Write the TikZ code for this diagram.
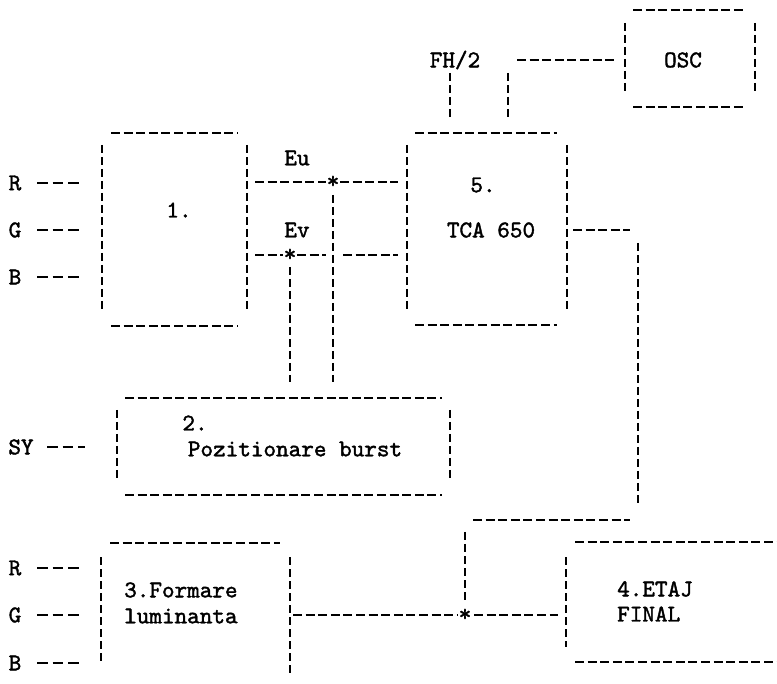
\documentclass[tikz,border=0pt]{standalone}
\usepackage{fontspec}
\setmonofont{lmmono10-regular.otf}[FakeBold=1.6]
\begin{document}
\begin{tikzpicture}[x=1pt,y=-1pt,
  hd/.style={line width=2.6pt, dash pattern=on 9pt off 3.6pt},
  vd/.style={line width=2.6pt, dash pattern=on 8pt off 4pt},
  ind/.style={line width=2.6pt, dash pattern=on 10.5pt off 5pt},
  txt/.style={inner sep=0pt, font=\ttfamily\fontsize{24}{26}\selectfont},
  lbl/.style={txt, anchor=west}]
\useasboundingbox (0,0) rectangle (777,684);

% ---- texts
\node[txt] (R1) at (15,183) {R};
\node[txt] (G1) at (15,230) {G};
\node[txt] (B1) at (15,277) {B};
\node[txt] (b1t) at (179,210) {1.};
\node[txt] (eu) at (297,158) {Eu};
\node[txt] (ev) at (297,230) {Ev};
\node[txt] (b5a) at (483,185) {5.};
\node[txt] (b5b) at (491,230) {TCA 650};
\node[txt] (fh) at (455,60) {FH/2};
\node[txt] (osc) at (683,60) {OSC};
\node[txt] (b2a) at (195,423) {2.};
\node[txt] (b2b) at (295,449) {Pozitionare burst};
\node[txt] (SY) at (21,447) {SY};
\node[lbl] (b3a) at (124,590) {3.Formare};
\node[lbl] (b3b) at (124,616) {luminanta};
\node[txt] (R3) at (15,568) {R};
\node[txt] (G3) at (15,615) {G};
\node[txt] (B3) at (15,663) {B};
\node[lbl] (b4a) at (617,589) {4.ETAJ};
\node[lbl] (b4b) at (617,614) {FINAL};
\node[txt] (s1) at (333,182) {*};
\node[txt] (s2) at (290,255) {*};
\node[txt] (s3) at (465,615) {*};

% ---- junction coordinates
\coordinate (eu0) at (255,182);
\coordinate (eu1) at (326,182);
\coordinate (eu2) at (340,182);
\coordinate (eu3) at (398,182);
\coordinate (ev0) at (255,255);
\coordinate (ev1) at (283,255);
\coordinate (ev2) at (297,255);
\coordinate (ev3) at (326,255);
\coordinate (ev4) at (343,255);
\coordinate (ev5) at (398,255);
\coordinate (lo0) at (293,615);
\coordinate (lo1) at (457,615);
\coordinate (lo2) at (474,615);
\coordinate (lo3) at (558,615);

% ---- box 1
\draw[hd] (111,133) -- (238,133);
\draw[vd] (102,145) -- (102,312);
\draw[vd] (247,145) -- (247,312);
\draw[hd] (111,326) -- (238,326);
% ---- box 5
\draw[hd] (415,133) -- (557,133);
\draw[vd] (407,145) -- (407,312);
\draw[vd] (567,145) -- (567,312);
\draw[hd] (415,325) -- (557,325);
% ---- OSC
\draw[hd] (633,10) -- (745,10);
\draw[vd] (625,23) -- (625,92);
\draw[vd] (755,23) -- (755,92);
\draw[hd] (633,107) -- (745,107);
% ---- box 2
\draw[hd] (125,398) -- (442,398);
\draw[vd] (117,410) -- (117,480);
\draw[vd] (450,410) -- (450,480);
\draw[hd] (125,495) -- (442,495);
% ---- box 3
\draw[hd] (110,543) -- (280,543);
\draw[vd] (101,557) -- (101,663);
\draw[vd] (290,557) -- (290,673);
% ---- box 4
\draw[hd] (575,542) -- (777,542);
\draw[vd] (566,557) -- (566,647);
\draw[hd] (575,662) -- (777,662);

% ---- inputs
\draw[ind] (37,183) -- (79,183);
\draw[ind] (37,230) -- (79,230);
\draw[ind] (37,277) -- (79,277);
\draw[ind] (47,447) -- (85,447);
\draw[ind] (37,568) -- (79,568);
\draw[ind] (37,615) -- (79,615);
\draw[ind] (37,663) -- (79,663);

% ---- Eu / Ev
\draw[hd] (eu0) -- (eu1);
\draw[hd] (eu2) -- (eu3);
\draw[vd] (333,195) -- (333,382);
\draw[hd] (ev0) -- (ev1);
\draw[hd] (ev2) -- (ev3);
\draw[hd] (ev4) -- (ev5);
\draw[vd] (290,267) -- (290,382);

% ---- FH/2 and OSC
\draw[vd] (450,73) -- (450,117);
\draw[vd] (508,73) -- (508,117);
\draw[hd] (517,60) -- (617,60);

% ---- output of 5 to node * and box 4
\draw[hd] (573,230) -- (630,230);
\draw[vd] (638,243) -- (638,503);
\draw[hd] (473,520) -- (630,520);
\draw[vd] (465,532) -- (465,602);
\draw[hd] (lo0) -- (lo1);
\draw[hd] (lo2) -- (lo3);
\end{tikzpicture}
\end{document}
